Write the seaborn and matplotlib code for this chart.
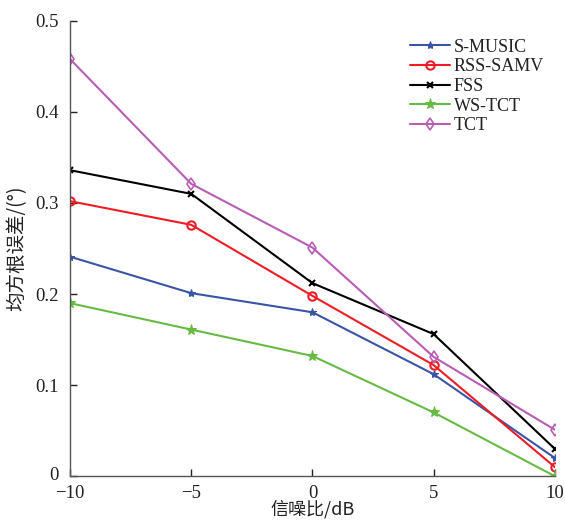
import matplotlib
matplotlib.use("Agg")
import matplotlib.pyplot as plt
import matplotlib.transforms as mtransforms
import seaborn as sns
import pandas as pd

snr = [-10, -5, 0, 5, 10]
s_music = [0.241, 0.201, 0.180, 0.112, 0.020]
rss_samv = [0.302, 0.276, 0.198, 0.122, 0.010]
fss = [0.336, 0.310, 0.212, 0.156, 0.030]
ws_tct = [0.190, 0.161, 0.132, 0.070, 0.000]
tct = [0.458, 0.321, 0.251, 0.131, 0.051]

series_names = ["S-MUSIC", "RSS-SAMV", "FSS", "WS-TCT", "TCT"]
series_vals = [s_music, rss_samv, fss, ws_tct, tct]

sns.set_theme(style="white")
plt.rcParams['font.family'] = ['Liberation Serif', 'Noto Sans CJK SC']

colors = ["#3a55a6", "#ee1c25", "#000000", "#67bb45", "#b75db3"]
styles = [
    dict(marker="*", markersize=6, markerfacecolor="#3a55a6", markeredgecolor="#3a55a6"),
    dict(marker="o", markersize=6, markerfacecolor="none", markeredgecolor="#ee1c25", markeredgewidth=1.5),
    dict(marker="x", markersize=5, markeredgecolor="#000000", markeredgewidth=1.5),
    dict(marker="*", markersize=8, markerfacecolor="#67bb45", markeredgecolor="#67bb45"),
    dict(marker="d", markersize=6, markerfacecolor="none", markeredgecolor="#b75db3", markeredgewidth=1.2),
]

fig = plt.figure(figsize=(5.65, 5.21), dpi=100)
ax = fig.add_axes([0.124, 0.086, 0.858, 0.874])

for name, vals, c, st in zip(series_names, series_vals, colors, styles):
    df = pd.DataFrame({"snr": snr, "rmse": vals})
    sns.lineplot(data=df, x="snr", y="rmse", ax=ax, color=c, linewidth=1.5,
                 label=name, **st)

ax.set_xlim(-10, 10)
ax.set_ylim(0, 0.5)
ax.set_xticks([-10, -5, 0, 5, 10])
ax.set_xticklabels(["\u221210", "\u22125", "0", "5", "10"])
ax.set_yticks([0, 0.1, 0.2, 0.3, 0.4, 0.5])
ax.set_yticklabels(["0", "0.1", "0.2", "0.3", "0.4", "0.5"])
ax.tick_params(axis="both", direction="in", length=5, width=1, labelsize=13.5,
               colors="#222222", left=True, bottom=True)
ax.tick_params(axis="x", pad=6)
ax.tick_params(axis="y", pad=8)
for s in ["top", "right"]:
    ax.spines[s].set_visible(False)
for s in ["left", "bottom"]:
    ax.spines[s].set_color("#555555")
    ax.spines[s].set_linewidth(1.0)

# lift the y "0" label a little so it clears the "−10" x label
ylab0 = ax.get_yticklabels()[0]
ylab0.set_transform(ylab0.get_transform() +
                    mtransforms.ScaledTranslation(0, 2 / 72, fig.dpi_scale_trans))

ax.set_xlabel("信噪比/dB", fontsize=13, color="#222222", labelpad=-1,
              family=['Noto Sans CJK SC', 'Liberation Serif'])
ax.set_ylabel("均方根误差/(°)", fontsize=14, color="#222222", labelpad=6,
              family=['Noto Sans CJK SC', 'Liberation Serif'])

leg = ax.legend(loc="upper right", bbox_to_anchor=(1.0, 0.985), frameon=False,
                fontsize=13, handlelength=2.2, handletextpad=0.2, labelspacing=0.15,
                borderaxespad=0.2)
for t in leg.get_texts():
    t.set_color("#222222")

fig.savefig("out.png", dpi=100)
